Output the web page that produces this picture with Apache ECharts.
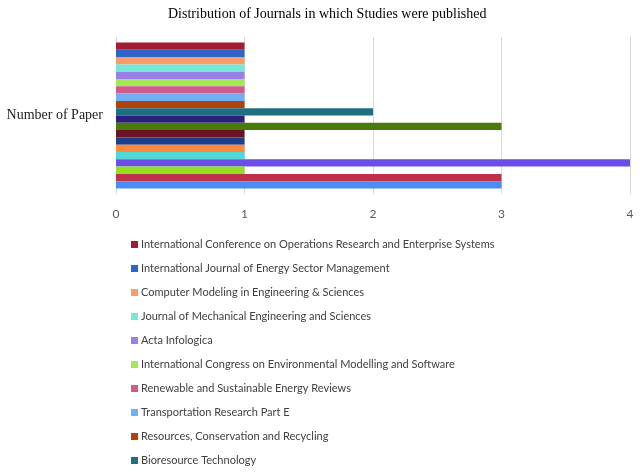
<!DOCTYPE html>
<html lang="en">

<head>
    <meta charset="UTF-8">
    <title>Distribution of Journals</title>
    <script src="https://cdn.jsdelivr.net/npm/echarts@6/dist/echarts.min.js"></script>
</head>
<style>
    body {
        margin: 0;
        background: #fff;
    }
</style>

<body>
    <div id="chart" style="width: 640px;height: 472px;"></div>
    <script>
        var categories = ['Number of Paper'];
        // only the first ten journal names are readable in the legend
        var journals = [
            'International Conference on Operations Research and Enterprise Systems',
            'International Journal of Energy Sector Management',
            'Computer Modeling in Engineering & Sciences',
            'Journal of Mechanical Engineering and Sciences',
            'Acta Infologica',
            'International Congress on Environmental Modelling and Software',
            'Renewable and Sustainable Energy Reviews',
            'Transportation Research Part E',
            'Resources, Conservation and Recycling',
            'Bioresource Technology',
            'Journal 11', 'Journal 12', 'Journal 13', 'Journal 14', 'Journal 15',
            'Journal 16', 'Journal 17', 'Journal 18', 'Journal 19', 'Journal 20'
        ];
        var papers = [1, 1, 1, 1, 1, 1, 1, 1, 1, 2, 1, 3, 1, 1, 1, 1, 4, 1, 3, 3];
        var colors = [
            '#a31d30', '#2e64c8', '#f79d6a', '#74e8db', '#9a80e6',
            '#a3e858', '#d05c8c', '#72aef2', '#b1420c', '#1f6f80',
            '#2b2080', '#4a7a0c', '#6b1424', '#1c3e8c', '#fa8a3c',
            '#55d6d6', '#6a4ee6', '#92e024', '#c0304a', '#4a8ef5'
        ];
        var xTicks = [0, 1, 2, 3, 4];

        var myChart = echarts.init(document.getElementById('chart'));
        var series = journals.map(function (name, i) {
            return {
                name: name,
                type: 'bar',
                barGap: '0%',
                barCategoryGap: '7%',
                itemStyle: { color: colors[i] },
                data: [papers[i]]
            };
        });

        var option = {
            animation: false,
            title: {
                text: 'Distribution of Journals in which Studies were published',
                left: 163,
                top: 2,
                textStyle: {
                    fontFamily: 'Liberation Serif',
                    fontSize: 14,
                    fontWeight: 'normal',
                    color: '#000'
                }
            },
            legend: {
                orient: 'vertical',
                left: 126,
                top: 234,
                height: 240,
                icon: 'rect',
                itemWidth: 7,
                itemHeight: 7,
                itemGap: 13,
                data: journals.slice(0, 10),
                textStyle: {
                    fontFamily: 'Lato',
                    fontSize: 11,
                    color: '#404040',
                    padding: [0, 0, 0, -2]
                }
            },
            grid: {
                left: 116,
                right: 10,
                top: 37,
                bottom: 278
            },
            xAxis: {
                type: 'value',
                min: xTicks[0],
                max: xTicks[xTicks.length - 1],
                interval: 1,
                axisLine: { show: false },
                axisTick: { show: false },
                axisLabel: {
                    margin: 14,
                    fontFamily: 'Lato',
                    fontSize: 12,
                    color: '#595959'
                },
                splitLine: { lineStyle: { color: '#d9d9d9' } }
            },
            yAxis: {
                type: 'category',
                inverse: true,
                data: categories,
                axisLine: { show: false },
                axisTick: { show: false },
                axisLabel: {
                    margin: 13,
                    fontFamily: 'Liberation Serif',
                    fontSize: 14,
                    color: '#222'
                }
            },
            series: series
        };
        myChart.setOption(option);
    </script>
</body>

</html>
